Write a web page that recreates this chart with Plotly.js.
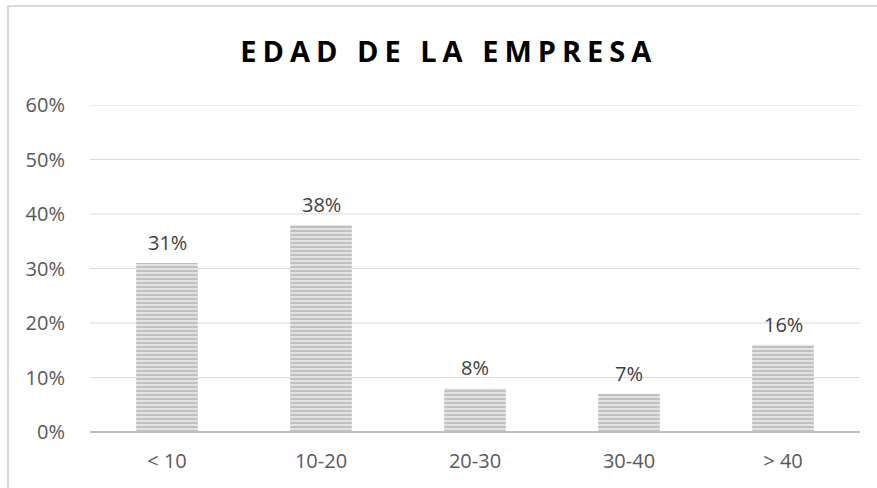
<!DOCTYPE html>
<html>
<head>
<meta charset="utf-8">
<script src="https://cdn.plot.ly/plotly-3.0.1.min.js"></script>
<style>
html,body{margin:0;padding:0;background:#fff;}
#wrap{position:relative;width:877px;height:488px;overflow:hidden;}
#frame{position:absolute;left:7px;top:5px;width:880px;height:490px;border-left:2px solid #d9d9d9;border-top:2px solid #d9d9d9;box-sizing:border-box;pointer-events:none;z-index:5;}
#chart{position:absolute;left:0;top:0;width:877px;height:488px;}
.gtitle{letter-spacing:6px;}
</style>
</head>
<body>
<div id="wrap">
<div id="chart"></div>
<div id="frame"></div>
</div>
<script>
const categories = ["< 10", "10-20", "20-30", "30-40", "> 40"];
const values = [0.31, 0.38, 0.08, 0.07, 0.16];
const labels = ["31%", "38%", "8%", "7%", "16%"];
const tickVals = [0, 0.1, 0.2, 0.3, 0.4, 0.5, 0.6];
const tickText = ["0%", "10%", "20%", "30%", "40%", "50%", "60%"];

const FONT = "Open Sans, Liberation Sans, sans-serif";

const trace = {
  type: "bar",
  x: categories,
  y: values,
  marker: {
    color: "#d6d6d6",
    line: {width: 0},
    pattern: {shape: "-", fgcolor: "#b8b8b8", bgcolor: "#e2e2e2", size: 4, solidity: 0.4}
  },
  hoverinfo: "none"
};

// value labels placed above each bar
const labelAnnotations = categories.map((c, i) => ({
  x: c, y: values[i], xref: "x", yref: "y",
  text: labels[i], showarrow: false,
  xanchor: "center", yanchor: "bottom", yshift: 5,
  font: {family: FONT, size: 20, color: "#404040"}
}));

// gridlines drawn from the tick values (top one is at the plot edge)
const gridShapes = tickVals.filter(v => v > 0).map(v => ({
  type: "line", xref: "paper", x0: 0, x1: 1, yref: "y", y0: v, y1: v,
  line: {color: "#d9d9d9", width: 1}, layer: "below"
}));

const layout = {
  width: 877, height: 488,
  margin: {l: 90, r: 17, t: 105, b: 56},
  paper_bgcolor: "#fff", plot_bgcolor: "#fff",
  bargap: 0.6,
  showlegend: false,
  shapes: gridShapes,
  annotations: labelAnnotations,
  title: {
    text: "<b>EDAD DE LA EMPRESA</b>",
    x: 0.466, xref: "paper", xanchor: "center",
    y: 0.893, yref: "container", yanchor: "middle",
    font: {family: FONT, size: 29, color: "#000"}
  },
  xaxis: {
    type: "category",
    tickfont: {family: FONT, size: 20, color: "#595959"},
    showgrid: false, zeroline: false, showline: false,
    ticks: "", ticklen: 0, ticklabelstandoff: 15
  },
  yaxis: {
    range: [0, 0.6],
    tickvals: tickVals, ticktext: tickText,
    tickfont: {family: FONT, size: 20, color: "#595959"},
    showgrid: false,
    zeroline: true, zerolinecolor: "#bfbfbf", zerolinewidth: 2,
    showline: false, ticks: "", ticklabelstandoff: 24
  }
};

Plotly.newPlot("chart", [trace], layout, {staticPlot: true, displayModeBar: false});
</script>
</body>
</html>
